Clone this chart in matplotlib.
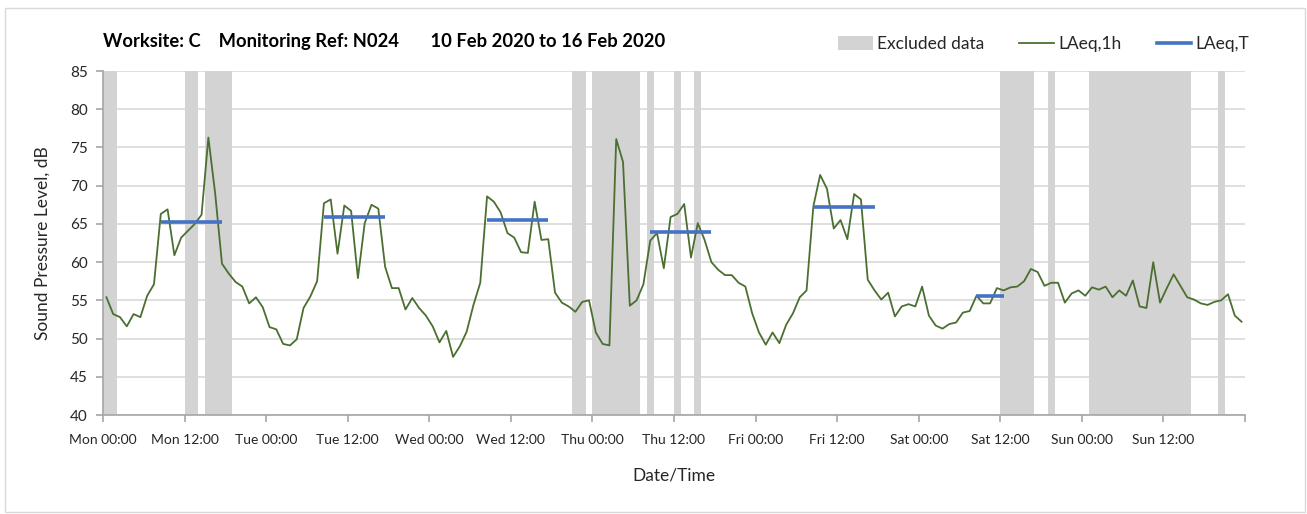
import matplotlib
matplotlib.use("Agg")
import matplotlib.pyplot as plt
from matplotlib.patches import Rectangle, Patch
from matplotlib.lines import Line2D

plt.rcParams['font.family'] = ['Lato', 'DejaVu Sans']

# Hourly LAeq,1h values (dB), Mon 00:00 onwards, one per hour
laeq_1h = [
    55.4, 53.2, 52.8, 51.6, 53.2, 52.8, 55.6, 57.1, 66.3, 66.9, 60.9, 63.2,
    64.1, 65.0, 66.2, 76.3, 69.0, 59.8, 58.5, 57.4, 56.8, 54.6, 55.4, 54.1,
    51.5, 51.2, 49.3, 49.1, 49.9, 54.0, 55.5, 57.5, 67.7, 68.2, 61.1, 67.4,
    66.7, 57.9, 65.1, 67.5, 67.0, 59.4, 56.6, 56.6, 53.8, 55.3, 54.0, 53.0,
    51.6, 49.5, 51.0, 47.6, 49.0, 50.9, 54.4, 57.3, 68.6, 67.9, 66.5, 63.8,
    63.2, 61.3, 61.2, 67.9, 62.9, 63.0, 56.0, 54.7, 54.2, 53.5, 54.8, 55.0,
    50.8, 49.3, 49.1, 76.1, 73.1, 54.3, 55.0, 57.1, 62.8, 63.8, 59.2, 65.9,
    66.3, 67.6, 60.6, 65.1, 62.9, 60.0, 59.0, 58.3, 58.3, 57.3, 56.8, 53.3,
    50.8, 49.2, 50.8, 49.4, 51.8, 53.3, 55.4, 56.3, 67.3, 71.4, 69.6, 64.4,
    65.5, 63.0, 68.9, 68.2, 57.7, 56.3, 55.1, 56.0, 52.9, 54.2, 54.5, 54.2,
    56.8, 53.0, 51.7, 51.3, 51.9, 52.1, 53.4, 53.6, 55.6, 54.6, 54.6, 56.6,
    56.3, 56.7, 56.8, 57.5, 59.1, 58.7, 56.9, 57.3, 57.3, 54.7, 55.9, 56.3,
    55.6, 56.7, 56.4, 56.8, 55.4, 56.3, 55.6, 57.6, 54.2, 54.0, 60.0, 54.7,
    56.6, 58.4, 56.9, 55.4, 55.1, 54.6, 54.4, 54.8, 55.0, 55.8, 53.0, 52.2,
]

# Period LAeq,T: first hour, last hour and level for each working period
period_first_hour = [8, 32, 56, 80, 104, 128]
period_last_hour = [17, 41, 65, 89, 113, 132]
period_laeq = [65.2, 65.9, 65.5, 63.9, 67.2, 55.6]

# Excluded data windows (hours from Mon 00:00)
excluded_start = [0, 12, 15, 69, 72, 80, 84, 87, 132, 139, 145, 164]
excluded_end = [2, 14, 19, 71, 79, 81, 85, 88, 137, 140, 160, 165]

# Tick labels every 12 hours
tick_labels = ["Mon 00:00", "Mon 12:00", "Tue 00:00", "Tue 12:00",
               "Wed 00:00", "Wed 12:00", "Thu 00:00", "Thu 12:00",
               "Fri 00:00", "Fri 12:00", "Sat 00:00", "Sat 12:00",
               "Sun 00:00", "Sun 12:00", ""]

title_text = "Worksite: C    Monitoring Ref: N024       10 Feb 2020 to 16 Feb 2020"

GREEN = "#4b6f30"
BLUE = "#4472c4"
SHADE = "#d3d3d3"
GRID = "#d9d9d9"
AXIS = "#a6a6a6"
TEXT = "#262626"

W, H = 1307, 514
fig = plt.figure(figsize=(W / 100, H / 100), dpi=100)

# chart border
fig.patches.append(Rectangle((5 / W, 2 / H), 1300 / W, 504 / H,
                             transform=fig.transFigure, fill=False,
                             edgecolor="#d9d9d9", linewidth=1.0))

ax = fig.add_axes([103 / W, 1 - 415 / H, (1245 - 103) / W, (415 - 71) / H])

for s, e in zip(excluded_start, excluded_end):
    ax.axvspan(s, e, color=SHADE, lw=0, zorder=1)

hours = [i + 0.5 for i in range(len(laeq_1h))]
ax.plot(hours, laeq_1h, color=GREEN, lw=1.3, zorder=3)

for s, e, v in zip(period_first_hour, period_last_hour, period_laeq):
    ax.hlines(v, s + 0.5, e + 0.5, color=BLUE, lw=2.6, zorder=4)

ax.set_xlim(0, 168)
ax.set_ylim(40, 85)
ax.set_xticks(range(0, 169, 12))
ax.set_xticklabels(tick_labels)
ax.set_yticks(range(40, 86, 5))

ax.set_xticks(range(0, 169, 24), minor=True)
ax.grid(False)
ax.xaxis.grid(True, which="minor", color=GRID, lw=1.2, zorder=0)
ax.yaxis.grid(True, which="major", color=GRID, lw=1.2, zorder=0)
ax.set_axisbelow(True)

for side in ("top", "right"):
    ax.spines[side].set_visible(False)
for side in ("left", "bottom"):
    ax.spines[side].set_color(AXIS)
    ax.spines[side].set_linewidth(1.2)
    ax.spines[side].set_zorder(5)

ax.tick_params(axis="x", which="major", direction="out", length=5,
               color=AXIS, width=1.2, labelsize=10, labelcolor=TEXT, pad=9)
ax.tick_params(axis="x", which="minor", length=0)
ax.tick_params(axis="y", direction="out", length=5, color=AXIS, width=1.2,
               labelsize=11, labelcolor=TEXT, pad=6)

ax.set_xlabel("Date/Time", fontsize=12.5, color=TEXT, labelpad=15)
ax.set_ylabel("Sound Pressure Level, dB", fontsize=12.5, color=TEXT, labelpad=14)

fig.text(103 / W, 1 - 42 / H, title_text, fontsize=13.2, fontweight="bold",
         color="#000000", ha="left", va="center")

handles = [Patch(facecolor=SHADE, edgecolor="none"),
           Line2D([], [], color=GREEN, lw=1.3),
           Line2D([], [], color=BLUE, lw=2.6)]
fig.legend(handles, ["Excluded data", "LAeq,1h", "LAeq,T"],
           loc="center right", bbox_to_anchor=(1258 / W, 1 - 44 / H),
           ncol=3, frameon=False, fontsize=12.5, handlelength=2.0,
           handleheight=0.9, handletextpad=0.25, columnspacing=2.0,
           labelcolor=TEXT, borderpad=0)

fig.savefig("out.png", dpi=100)
